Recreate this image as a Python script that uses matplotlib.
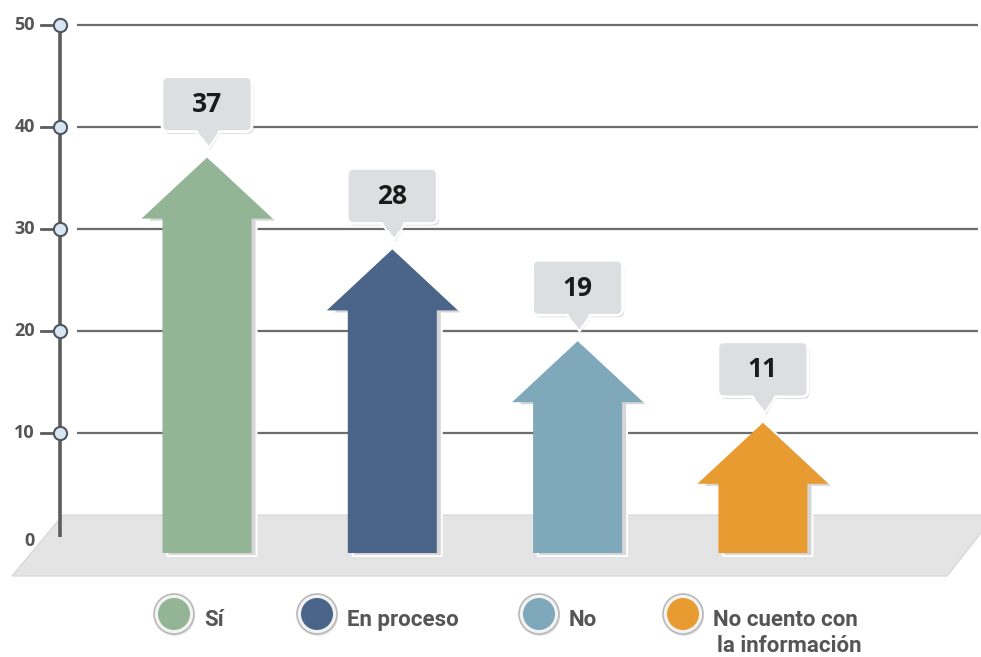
import matplotlib.pyplot as plt
import matplotlib.transforms as mtransforms
from matplotlib.patches import Polygon, FancyBboxPatch, Circle
from matplotlib.lines import Line2D

categories = ["Sí", "En proceso", "No", "No cuento con\nla información"]
values = [37, 28, 19, 11]
colors = ["#93b596", "#4a6589", "#80a8bb", "#e89b30"]
yticks = [0, 10, 20, 30, 40, 50]

# legend marker centres (pixels from top-left)
legend_x = [174, 317, 539, 683]
legend_y = 614

W, H = 981, 657
fig = plt.figure(figsize=(W / 100, H / 100), dpi=100)
ax = fig.add_axes([0, 0, 1, 1])
ax.axis('off')

# layout: first category at x=207px, 185.3px apart; value 0 at y=535px, 10.2px per unit
x0, dx = 207.0, 185.3
y0, dy = 535.0, 10.2
ax.set_xlim(-x0 / dx, (W - x0) / dx)
ax.set_ylim((y0 - H) / dy, y0 / dy)


def px_x(p):
    return (p - x0) / dx


def px_y(p):
    return (y0 - p) / dy


# pixel transform, origin at top-left
pix = mtransforms.Affine2D().scale(1, -1).translate(0, H) + mtransforms.Affine2D().scale(fig.dpi / 100)

# floor
floor = Polygon([(px_x(63), px_y(515)), (px_x(995), px_y(515)),
                 (px_x(947), px_y(576)), (px_x(12), px_y(576))],
                closed=True, fc='#e4e4e4', ec='#d4d4d4', lw=0.8, zorder=0)
ax.add_patch(floor)

# grid lines
for t in yticks[1:]:
    ax.plot([px_x(77), px_x(978)], [t, t], color='#6d6d6d', lw=1.6, zorder=1,
            solid_capstyle='butt')

# y axis with ring markers
ax.plot([px_x(60), px_x(60)], [px_y(537), 50], color='#5c5c5c', lw=2.6, zorder=3,
        solid_capstyle='butt')
tick_font = dict(ha='right', va='center', fontsize=13, fontweight='bold',
                 color='#555555', family='Open Sans')
for t in yticks[1:]:
    ax.plot([px_x(41), px_x(54)], [t, t], color='#5c5c5c', lw=2, zorder=3)
    ax.plot(px_x(60), t, 'o', ms=9.5, mfc='#d8e6f2', mec='#4f5660', mew=1.5, zorder=4)
    ax.text(px_x(35), t, str(t), **tick_font)
ax.text(px_x(35), px_y(541), str(yticks[0]), **tick_font)

# arrows
base = px_y(553)
sw = 89 / dx
hw = 131 / dx
hh = 61 / dy
shadow_tr = ax.transData + mtransforms.Affine2D().translate(5, -3)
for i, (v, c) in enumerate(zip(values, colors)):
    pts = [(i - sw / 2, base), (i - sw / 2, v - hh), (i - hw / 2, v - hh), (i, v),
           (i + hw / 2, v - hh), (i + sw / 2, v - hh), (i + sw / 2, base)]
    ax.add_patch(Polygon(pts, closed=True, fc='#d6d6d6', ec='white', lw=1.4,
                         transform=shadow_tr, zorder=5))
    ax.add_patch(Polygon(pts, closed=True, fc=c, ec='none', zorder=6))

    # value callout, drawn in pixels relative to the arrow tip
    tr = mtransforms.Affine2D().scale(fig.dpi / 100) + \
        mtransforms.ScaledTranslation(i, v, ax.transData)
    ax.add_patch(FancyBboxPatch((-43.5, 24), 90, 55, boxstyle='round,pad=0,rounding_size=6',
                                fc='#8c8c8c', ec='none', alpha=0.4, transform=tr, zorder=7))
    ax.add_patch(Polygon([(-9, 24), (13, 24), (3, 8)], closed=True, fc='#8c8c8c',
                         ec='none', alpha=0.3, transform=tr, zorder=7))
    ax.add_patch(FancyBboxPatch((-45, 26), 90, 55, boxstyle='round,pad=0,rounding_size=6',
                                fc='#dcdee1', ec='white', lw=2, transform=tr, zorder=8))
    ax.add_patch(Polygon([(-10, 28), (12, 28), (2, 10)], closed=True, fc='#dcdee1',
                         ec='none', transform=tr, zorder=9))
    ax.add_line(Line2D([-11, 2, 13], [26, 10, 26], color='white', lw=1.6,
                       transform=tr, zorder=9))
    ax.text(0, 53, str(v), ha='center', va='center', fontsize=19, fontweight='bold',
            color='#1b1b1b', family='Open Sans', transform=tr, zorder=10)

# legend
for lx, name, c in zip(legend_x, categories, colors):
    ax.add_patch(Circle((lx + 1, legend_y + 2), 20, fc='#cfcfcf', ec='none',
                        alpha=0.5, transform=pix, zorder=10))
    ax.add_patch(Circle((lx, legend_y), 20, fc='#f3f3f3', ec='#b8b8b8', lw=1.2,
                        transform=pix, zorder=11))
    ax.add_patch(Circle((lx, legend_y), 16, fc=c, ec='none', transform=pix, zorder=12))
    lines = name.split('\n')
    for k, line in enumerate(lines):
        off = 0 if k == 0 else 4
        ax.text(lx + 30 + off, 626 + 26 * k, line, ha='left', va='baseline',
                fontsize=16, fontweight='bold', color='#555555', family='Roboto',
                transform=pix, zorder=12)

fig.savefig('out.png', dpi=100)
